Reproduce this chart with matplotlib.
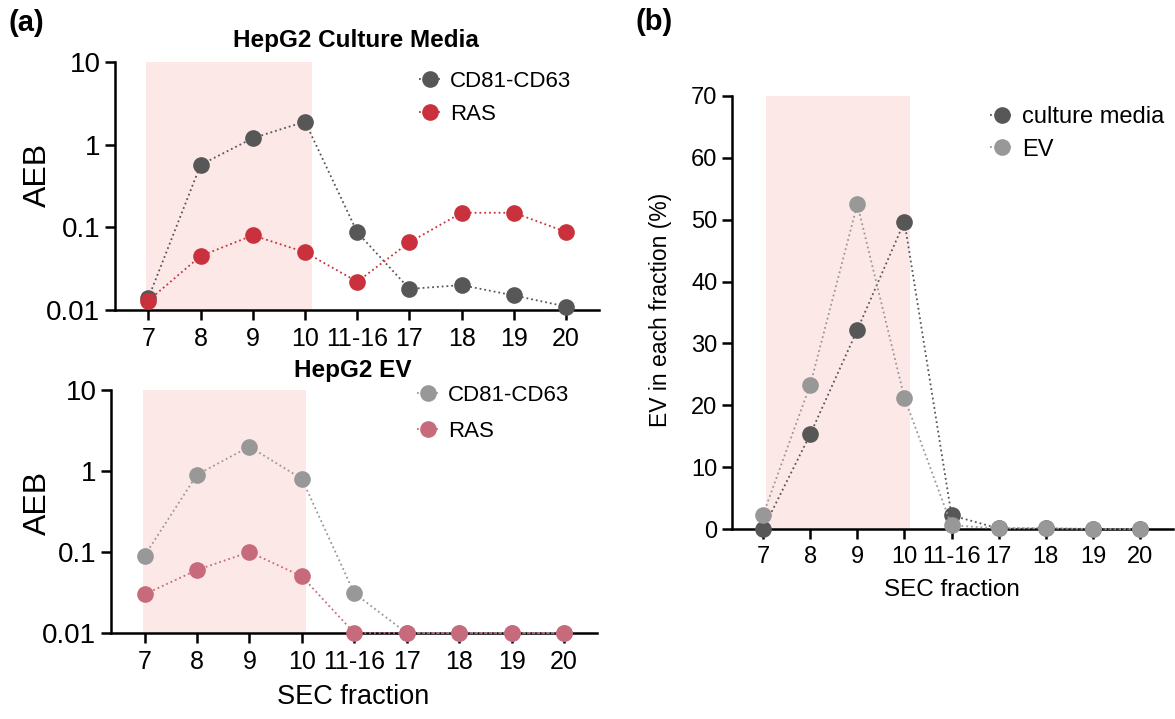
import matplotlib.pyplot as plt
from matplotlib.ticker import FixedLocator, NullLocator

plt.rcParams.update({
    "font.family": ["Liberation Sans", "DejaVu Sans"],
    "axes.linewidth": 1.8,
    "xtick.major.width": 1.8,
    "ytick.major.width": 1.8,
    "xtick.major.size": 7,
    "ytick.major.size": 7,
})

# ── Data ─────────────────────────────────────────────────────────────────────
fractions = ["7", "8", "9", "10", "11-16", "17", "18", "19", "20"]

# HepG2 culture media (AEB)
cm_cd81 = [0.014, 0.57, 1.2, 1.9, 0.087, 0.018, 0.020, 0.015, 0.011]
cm_ras = [0.013, 0.045, 0.080, 0.050, 0.022, 0.066, 0.15, 0.15, 0.088]

# HepG2 EV (AEB)
ev_cd81 = [0.09, 0.9, 2.0, 0.8, 0.031, 0.01, 0.01, 0.01, 0.01]
ev_ras = [0.03, 0.06, 0.10, 0.05, 0.01, 0.01, 0.01, 0.01, 0.01]

# EV in each fraction (%)
pct_media = [0.0, 15.3, 32.2, 49.7, 2.2, 0.1, 0.1, 0.0, 0.0]
pct_ev = [2.3, 23.3, 52.5, 21.2, 0.6, 0.1, 0.1, 0.0, 0.0]

DARK = "#575757"
RED = "#C9323C"
LIGHT = "#989898"
PINK = "#C76A7C"
SHADE = "#FDE8E8"

W, H = 1175, 719
x = list(range(len(fractions)))

fig = plt.figure(figsize=(W / 100, H / 100), dpi=100)


def px_axes(left, top, right, bottom):
    return fig.add_axes([left / W, 1 - bottom / H, (right - left) / W,
                         (bottom - top) / H])


ax1 = px_axes(115, 62, 599, 310)
ax2 = px_axes(111, 390, 597, 633)
ax3 = px_axes(732, 96, 1173, 529)


def style(ax, tick_fs):
    ax.spines["top"].set_visible(False)
    ax.spines["right"].set_visible(False)
    ax.set_xticks(x)
    ax.set_xticklabels(fractions, fontsize=tick_fs)
    ax.tick_params(axis="x", pad=5)


def series(ax, vals, color, label):
    ax.plot(x, vals, linestyle=":", linewidth=1.3, color=color, marker="o",
            markersize=12, markeredgewidth=0, label=label, clip_on=False,
            zorder=3)


def legend_at(ax, px_x, px_y, fs, pad, spacing):
    ax.legend(loc="upper left", bbox_to_anchor=(px_x / W, 1 - px_y / H),
              bbox_transform=fig.transFigure, frameon=False, fontsize=fs,
              handlelength=1.0, handletextpad=pad, labelspacing=spacing,
              borderpad=0, borderaxespad=0)


panels = [
    (ax1, cm_cd81, cm_ras, DARK, RED, "HepG2 Culture Media", 356, 41, 175,
     (-0.05, 3.13), 419, 71, 0.55),
    (ax2, ev_cd81, ev_ras, LIGHT, PINK, "HepG2 EV", 353, 371, 503,
     (-0.03, 3.07), 417, 385, 0.68),
]
for ax, s1, s2, c1, c2, title, tx, ty, ly, span, lgx, lgy, lsp in panels:
    ax.axvspan(*span, color=SHADE, zorder=0, lw=0)
    series(ax, s1, c1, "CD81-CD63")
    series(ax, s2, c2, "RAS")
    ax.set_yscale("log")
    ax.set_ylim(0.01, 10)
    ax.yaxis.set_major_locator(FixedLocator([0.01, 0.1, 1, 10]))
    ax.yaxis.set_minor_locator(NullLocator())
    ax.set_yticklabels(["0.01", "0.1", "1", "10"], fontsize=20)
    ax.set_xlim(-0.64, 8.63)
    style(ax, 18)
    fig.text(tx / W, 1 - ty / H, title, fontsize=17.5, fontweight="bold",
             ha="center", va="center")
    fig.text(38 / W, 1 - ly / H, "AEB", fontsize=23, rotation=90,
             ha="center", va="center")
    legend_at(ax, lgx, lgy, 16, 0.4, lsp)

fig.text(353 / W, 1 - 697 / H, "SEC fraction", fontsize=19.5,
         ha="center", va="center")

ax3.axvspan(0.06, 3.12, color=SHADE, zorder=0, lw=0)
series(ax3, pct_media, DARK, "culture media")
series(ax3, pct_ev, LIGHT, "EV")
ax3.set_ylim(0, 70)
ax3.set_xlim(-0.66, 8.7)
ax3.set_yticks(range(0, 71, 10))
ax3.tick_params(axis="y", labelsize=17)
style(ax3, 17)
fig.text(661 / W, 1 - 310 / H, "EV in each fraction (%)", fontsize=16.5,
         rotation=90, ha="center", va="center")
fig.text(952 / W, 1 - 590 / H, "SEC fraction", fontsize=17.5,
         ha="center", va="center")
legend_at(ax3, 990, 106, 17, 0.36, 0.45)

fig.text(26 / W, 1 - 23 / H, "(a)", fontsize=21, fontweight="bold",
         ha="center", va="center")
fig.text(654 / W, 1 - 22 / H, "(b)", fontsize=21, fontweight="bold",
         ha="center", va="center")

fig.savefig("out.png", dpi=100)
